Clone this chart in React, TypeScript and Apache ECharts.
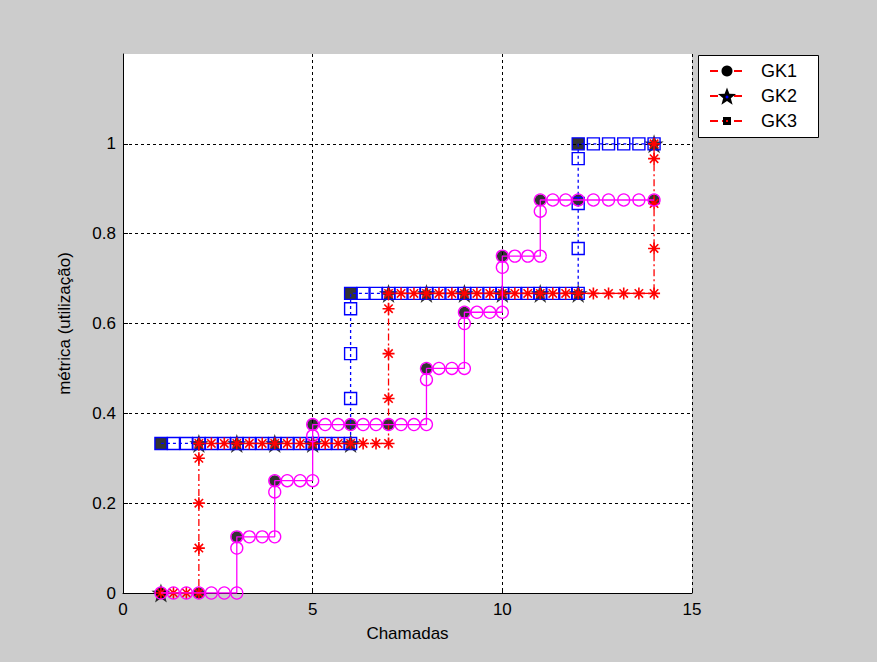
import React, { useEffect, useRef } from 'react';
import * as echarts from 'echarts';

// ---------- data ----------
const xTickValues = [0, 5, 10, 15];
const yTickLabels = ['0', '0.2', '0.4', '0.6', '0.8', '1'];
const legendNames = ['GK1', 'GK2', 'GK3'];

// black markers
const gk1Points = [[1, 0], [2, 0], [3, 0.125], [4, 0.25], [5, 0.375], [6, 0.375], [7, 0.375], [8, 0.5], [9, 0.625], [10, 0.75], [11, 0.875], [12, 0.875], [14, 0.875]];
const gk2Points = [[1, 0], [2, 0.333], [3, 0.333], [4, 0.333], [5, 0.333], [6, 0.333], [7, 0.667], [8, 0.667], [9, 0.667], [10, 0.667], [11, 0.667], [12, 0.667], [14, 1]];
const gk3Points = [[1, 0.333], [6, 0.667], [12, 1]];

// magenta stairs (circles, solid line)
const magentaStairs = [
  [1, 0], [1.33, 0], [1.67, 0], [2, 0], [2.33, 0], [2.67, 0], [3, 0],
  [3, 0.1], [3, 0.125], [3.33, 0.125], [3.67, 0.125], [4, 0.125],
  [4, 0.225], [4, 0.25], [4.33, 0.25], [4.67, 0.25], [5, 0.25],
  [5, 0.35], [5, 0.375], [5.33, 0.375], [5.67, 0.375], [6, 0.375], [6.33, 0.375], [6.67, 0.375], [7, 0.375], [7.33, 0.375], [7.67, 0.375], [8, 0.375],
  [8, 0.475], [8, 0.5], [8.33, 0.5], [8.67, 0.5], [9, 0.5],
  [9, 0.6], [9, 0.625], [9.33, 0.625], [9.67, 0.625], [10, 0.625],
  [10, 0.725], [10, 0.75], [10.33, 0.75], [10.67, 0.75], [11, 0.75],
  [11, 0.85], [11, 0.875], [11.33, 0.875], [11.67, 0.875], [12, 0.875], [12.4, 0.875], [12.8, 0.875], [13.2, 0.875], [13.6, 0.875], [14, 0.875],
];

// red stairs (asterisks, dash-dot line)
const redStairs = [
  [1, 0], [1.33, 0], [1.67, 0], [2, 0],
  [2, 0.1], [2, 0.2], [2, 0.3], [2, 0.333],
  [2.33, 0.333], [2.67, 0.333], [3, 0.333], [3.33, 0.333], [3.67, 0.333], [4, 0.333], [4.33, 0.333], [4.67, 0.333], [5, 0.333], [5.33, 0.333], [5.67, 0.333], [6, 0.333], [6.33, 0.333], [6.67, 0.333], [7, 0.333],
  [7, 0.433], [7, 0.533], [7, 0.633], [7, 0.667],
  [7.33, 0.667], [7.67, 0.667], [8, 0.667], [8.33, 0.667], [8.67, 0.667], [9, 0.667], [9.33, 0.667], [9.67, 0.667], [10, 0.667], [10.33, 0.667], [10.67, 0.667], [11, 0.667], [11.33, 0.667], [11.67, 0.667], [12, 0.667],
  [12.4, 0.667], [12.8, 0.667], [13.2, 0.667], [13.6, 0.667], [14, 0.667],
  [14, 0.767], [14, 0.867], [14, 0.967], [14, 1],
];

// blue stairs (squares, dotted line)
const blueStairs = [
  [1, 0.333], [1.33, 0.333], [1.67, 0.333], [2, 0.333], [2.33, 0.333], [2.67, 0.333], [3, 0.333], [3.33, 0.333], [3.67, 0.333], [4, 0.333], [4.33, 0.333], [4.67, 0.333], [5, 0.333], [5.33, 0.333], [5.67, 0.333], [6, 0.333],
  [6, 0.433], [6, 0.533], [6, 0.633], [6, 0.667],
  [6.33, 0.667], [6.67, 0.667], [7, 0.667], [7.33, 0.667], [7.67, 0.667], [8, 0.667], [8.33, 0.667], [8.67, 0.667], [9, 0.667], [9.33, 0.667], [9.67, 0.667], [10, 0.667], [10.33, 0.667], [10.67, 0.667], [11, 0.667], [11.33, 0.667], [11.67, 0.667], [12, 0.667],
  [12, 0.767], [12, 0.867], [12, 0.967], [12, 1],
  [12.4, 1], [12.8, 1], [13.2, 1], [13.6, 1], [14, 1],
];

const FONT = 'Liberation Sans, Arial, sans-serif';
const STAR = 'path://M0,-10L2.35,-3.24L9.51,-3.09L3.8,1.24L5.88,8.09L0,4L-5.88,8.09L-3.8,1.24L-9.51,-3.09L-2.35,-3.24Z';
const ASTER = 'path://M0,-6L0,6M-6,0L6,0M-4.2,-4.2L4.2,4.2M-4.2,4.2L4.2,-4.2';

function starPoints(cx: number, cy: number, ro: number, ri: number) {
  const pts: number[][] = [];
  for (let i = 0; i < 10; i++) {
    const a = (-90 + i * 36) * Math.PI / 180;
    const r = i % 2 === 0 ? ro : ri;
    pts.push([cx + r * Math.cos(a), cy + r * Math.sin(a)]);
  }
  return pts;
}

export default function App() {
  const ref = useRef<HTMLDivElement>(null);
  useEffect(() => {
    if (!ref.current) return;
    const chart = echarts.init(ref.current, undefined, { renderer: 'svg' });
    const legendY = [71, 96, 121];
    const legendGraphics: any[] = [
      { type: 'rect', shape: { x: 698.5, y: 55.5, width: 120, height: 82 }, style: { fill: '#fff', stroke: '#000', lineWidth: 1 }, z: 100 },
    ];
    legendNames.forEach((name, i) => {
      const cy = legendY[i];
      legendGraphics.push({ type: 'line', shape: { x1: 710, y1: cy, x2: 745, y2: cy }, style: { stroke: '#ff0000', lineWidth: 2, lineDash: [8, 4] }, z: 101 });
      if (i === 0) legendGraphics.push({ type: 'circle', shape: { cx: 727, cy, r: 5.5 }, style: { fill: '#000' }, z: 102 });
      if (i === 1) {
        legendGraphics.push({ type: 'polygon', shape: { points: starPoints(727, cy + 1, 9.5, 4) }, style: { fill: '#000' }, z: 102 });
        legendGraphics.push({ type: 'circle', shape: { cx: 727, cy: cy + 1, r: 1.5 }, style: { fill: '#0000ff' }, z: 103 });
      }
      if (i === 2) {
        legendGraphics.push({ type: 'rect', shape: { x: 723, y: cy - 4, width: 8, height: 8 }, style: { fill: '#000' }, z: 102 });
        legendGraphics.push({ type: 'rect', shape: { x: 726, y: cy - 1, width: 2, height: 2 }, style: { fill: '#ff0000' }, z: 103 });
      }
      legendGraphics.push({ type: 'text', x: 761, y: cy, style: { text: name, fill: '#000', font: `18px ${FONT}`, verticalAlign: 'middle' }, z: 102 });
    });

    const option: any = {
      animation: false,
      backgroundColor: '#cccccc',
      textStyle: { fontFamily: FONT },
      grid: { left: 123, top: 54, right: 185, bottom: 69, show: true, backgroundColor: '#ffffff', borderWidth: 0 },
      xAxis: {
        type: 'value', min: xTickValues[0], max: xTickValues[xTickValues.length - 1], interval: 5,
        name: 'Chamadas', nameLocation: 'middle', nameGap: 32,
        nameTextStyle: { color: '#000', fontSize: 17, fontFamily: FONT },
        axisLine: { show: true, onZero: false, lineStyle: { color: '#000', width: 1 } },
        axisTick: { show: true, inside: true, length: 5, lineStyle: { color: '#000' } },
        axisLabel: { color: '#000', fontSize: 17, fontFamily: FONT, margin: 8 },
        splitLine: { show: true, showMinLine: false, showMaxLine: true, lineStyle: { color: '#000', type: [3, 3], width: 1 } },
      },
      yAxis: {
        type: 'value', min: 0, max: 1.2, interval: 0.2,
        name: 'métrica (utilização)', nameLocation: 'middle', nameGap: 50, nameRotate: 90,
        nameTextStyle: { color: '#000', fontSize: 17, fontFamily: FONT },
        axisLine: { show: true, onZero: false, lineStyle: { color: '#000', width: 1 } },
        axisTick: { show: true, inside: true, length: 5, lineStyle: { color: '#000' } },
        axisLabel: {
          color: '#000', fontSize: 17, fontFamily: FONT, margin: 7, showMaxLabel: false,
          formatter: (v: number) => { const idx = Math.round(v / 0.2); return yTickLabels[idx] ?? ''; },
        },
        splitLine: { show: true, showMinLine: false, showMaxLine: false, lineStyle: { color: '#000', type: [3, 3], width: 1 } },
      },
      graphic: legendGraphics,
      series: [
        { name: 'GK1', type: 'scatter', data: gk1Points, symbol: 'circle', symbolSize: 11, itemStyle: { color: '#000' }, z: 2, silent: true },
        { name: 'GK2', type: 'scatter', data: gk2Points, symbol: STAR, symbolSize: 19, itemStyle: { color: '#000' }, z: 2, silent: true },
        { name: 'GK3', type: 'scatter', data: gk3Points, symbol: 'rect', symbolSize: 12, itemStyle: { color: '#000' }, z: 2, silent: true },
        {
          type: 'line', data: blueStairs, symbol: 'rect', symbolSize: 12, showAllSymbol: true, z: 3, silent: true,
          lineStyle: { color: '#0000ff', width: 1.3, type: [3, 3] },
          itemStyle: { color: 'rgba(0,0,0,0)', borderColor: '#0000ff', borderWidth: 1.4 },
        },
        {
          type: 'line', data: redStairs, symbol: ASTER, symbolSize: 12, showAllSymbol: true, z: 4, silent: true,
          lineStyle: { color: '#ff0000', width: 1.3, type: [7, 3, 2, 3] },
          itemStyle: { color: 'rgba(0,0,0,0)', borderColor: '#ff0000', borderWidth: 1.6 },
        },
        {
          type: 'line', data: magentaStairs, symbol: 'circle', symbolSize: 12, showAllSymbol: true, z: 5, silent: true,
          lineStyle: { color: '#ff00ff', width: 1.3 },
          itemStyle: { color: 'rgba(0,0,0,0)', borderColor: '#ff00ff', borderWidth: 1.3 },
        },
      ],
    };
    chart.setOption(option);
    return () => chart.dispose();
  }, []);
  return <div ref={ref} style={{ position: 'fixed', left: 0, top: 0, width: 877, height: 662 }} />;
}
